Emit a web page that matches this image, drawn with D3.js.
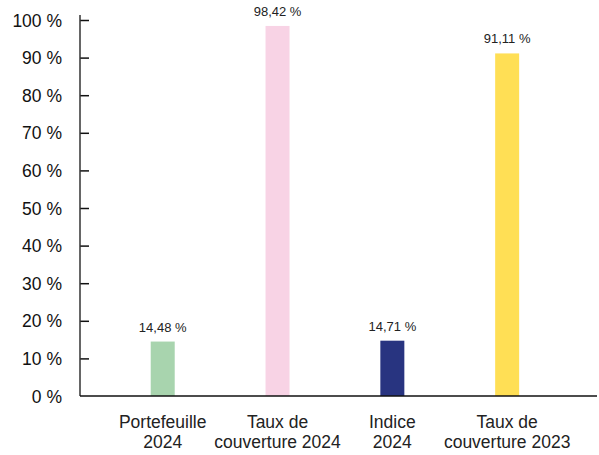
<!DOCTYPE html>
<html>
<head>
<meta charset="utf-8">
<script src="https://cdn.jsdelivr.net/npm/d3@7/dist/d3.min.js"></script>
<style>
  html, body { margin: 0; padding: 0; background: #fff; }
  svg { display: block; font-family: "Liberation Sans", Arial, Helvetica, sans-serif; }
</style>
</head>
<body>
<svg id="chart" width="599" height="455"></svg>
<script>
const categories = [["Portefeuille", "2024"], ["Taux de", "couverture 2024"], ["Indice", "2024"], ["Taux de", "couverture 2023"]];
const values = [14.48, 98.42, 14.71, 91.11];
const valueLabels = ["14,48 %", "98,42 %", "14,71 %", "91,11 %"];
const colors = ["#a8d4ae", "#f8d3e5", "#283480", "#ffdf55"];
const yTicks = [0, 10, 20, 30, 40, 50, 60, 70, 80, 90, 100];

(function () {
const svg = d3.select("#chart");
const mLeft = 80, mRight = 597, mTop = 20, mBottom = 396;
const ids = categories.map((c, i) => i);

const x = d3.scaleBand().domain(ids).range([mLeft, mRight])
  .paddingInner(0.791).paddingOuter(0.647).align(0.476);
const y = d3.scaleLinear().domain([0, 100]).range([mBottom, mTop]);

// bars
svg.append("g").selectAll("rect").data(values).join("rect")
  .attr("x", (d, i) => x(i))
  .attr("y", d => y(d))
  .attr("width", x.bandwidth())
  .attr("height", d => y(0) - y(d))
  .attr("fill", (d, i) => colors[i]);

// value labels
svg.append("g").selectAll("text").data(values).join("text")
  .attr("x", (d, i) => x(i) + x.bandwidth() / 2)
  .attr("y", d => y(d) - 10)
  .attr("text-anchor", "middle")
  .attr("font-size", 13)
  .attr("fill", "#222")
  .text((d, i) => valueLabels[i]);

// y axis
const yAxis = d3.axisRight(y).tickValues(yTicks).tickSize(9).tickFormat("");
const gy = svg.append("g").attr("transform", `translate(${mLeft},0)`).call(yAxis);
gy.select(".domain").remove();
gy.selectAll(".tick line").attr("stroke", "#111").attr("stroke-width", 1.5)
  .filter(d => d === 0).remove();
svg.append("line").attr("x1", mLeft).attr("x2", mLeft).attr("y1", mTop - 5).attr("y2", mBottom)
  .attr("stroke", "#333").attr("stroke-width", 1.5);

svg.append("g").selectAll("text").data(yTicks).join("text")
  .attr("x", 62)
  .attr("y", d => y(d))
  .attr("dy", "0.38em")
  .attr("text-anchor", "end")
  .attr("font-size", 17.5)
  .attr("fill", "#111")
  .text(d => d + " %");

// x axis
svg.append("line").attr("x1", mLeft).attr("x2", mRight).attr("y1", mBottom).attr("y2", mBottom)
  .attr("stroke", "#111").attr("stroke-width", 1.5);

const xl = svg.append("g").selectAll("text").data(categories).join("text")
  .attr("text-anchor", "middle")
  .attr("font-size", 17.5)
  .attr("fill", "#222");
xl.each(function(d, i) {
  const t = d3.select(this);
  d.forEach((line, j) => {
    t.append("tspan")
      .attr("x", x(i) + x.bandwidth() / 2)
      .attr("y", 428 + j * 20)
      .text(line);
  });
});
})();
</script>
</body>
</html>
